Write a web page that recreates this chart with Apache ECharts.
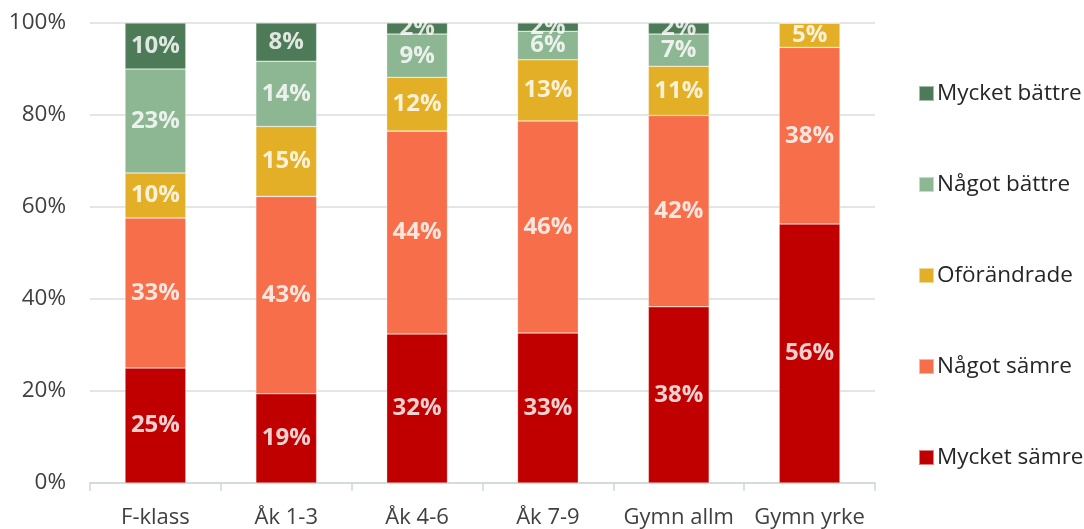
<!DOCTYPE html>
<html>
<head>
<meta charset="utf-8">
<script src="https://cdn.jsdelivr.net/npm/echarts@6/dist/echarts.min.js"></script>
<style>
  html, body { margin: 0; padding: 0; background: #fff; }
  #chart { width: 1084px; height: 529px; }
</style>
</head>
<body>
<div id="chart"></div>
<script>
// kategorier (x-axel)
var categories = ["F-klass", "Åk 1-3", "Åk 4-6", "Åk 7-9", "Gymn allm", "Gymn yrke"];
// andelar i procent, nerifrån och upp i stapeln
var mycketSamre = [25.0, 19.4, 32.4, 32.6, 38.3, 56.3];
var nagotSamre = [32.6, 42.9, 44.1, 46.1, 41.6, 38.4];
var oforandrade = [9.8, 15.2, 11.7, 13.3, 10.7, 5.3];
var nagotBattre = [22.6, 14.2, 9.4, 6.2, 7.0, 0];
var mycketBattre = [10.0, 8.3, 2.4, 1.8, 2.4, 0];
var yTicks = [0, 20, 40, 60, 80, 100];

var font = "'Open Sans', 'Noto Sans', sans-serif";

function mkSeries(name, data, color) {
  return {
    name: name,
    type: "bar",
    stack: "total",
    data: data,
    barWidth: "46.5%",
    itemStyle: { color: color, borderColor: "rgba(255,255,255,0.5)", borderWidth: 0.6 },
    label: {
      show: true,
      position: "inside",
      color: "rgba(255,255,255,0.82)",
      fontFamily: font,
      fontWeight: "bold",
      fontSize: 24,
      formatter: function (p) {
        return p.value > 0 ? Math.round(p.value) + "%" : "";
      }
    }
  };
}

var myChart = echarts.init(document.getElementById("chart"));
myChart.setOption({
  animation: false,
  textStyle: { fontFamily: font },
  grid: { left: 90, right: 209, top: 23, bottom: 46 },
  legend: {
    orient: "vertical",
    left: 913,
    top: 76,
    icon: "rect",
    itemWidth: 15,
    itemHeight: 15,
    itemGap: 66,
    // legenden visas med "Mycket bättre" överst
    data: ["Mycket bättre", "Något bättre", "Oförändrade", "Något sämre", "Mycket sämre"],
    textStyle: { fontSize: 22.5, color: "#262626", fontFamily: font, lineHeight: 25, padding: [0, 0, 0, -2] }
  },
  xAxis: {
    type: "category",
    data: categories,
    axisLine: { lineStyle: { color: "#d0d7d6", width: 1.5 } },
    axisTick: { show: true, interval: 0, length: 8, lineStyle: { color: "#d0d7d6", width: 1.5 } },
    axisLabel: { interval: 0, fontSize: 22, color: "#404040", margin: 24, fontFamily: font }
  },
  yAxis: {
    type: "value",
    min: yTicks[0],
    max: yTicks[yTicks.length - 1],
    interval: 20,
    axisLine: { show: false },
    axisTick: { show: false },
    splitLine: { lineStyle: { color: "#d9dfde", width: 1.5 } },
    axisLabel: {
      fontSize: 22.5,
      color: "#404040",
      margin: 24,
      fontFamily: font,
      formatter: "{value}%"
    }
  },
  series: [
    mkSeries("Mycket sämre", mycketSamre, "#c00000"),
    mkSeries("Något sämre", nagotSamre, "#f66e4a"),
    mkSeries("Oförändrade", oforandrade, "#e2af26"),
    mkSeries("Något bättre", nagotBattre, "#8db693"),
    mkSeries("Mycket bättre", mycketBattre, "#4d7a57")
  ]
});
</script>
</body>
</html>
